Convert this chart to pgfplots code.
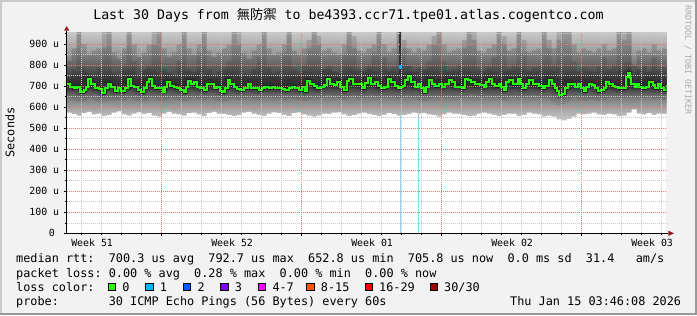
\documentclass[border=0pt]{standalone}
\usepackage{pgfplots}
\pgfplotsset{compat=1.18}
\usepackage{pgfplotstable}
\usepackage{fontspec}
\setmainfont{DejaVu Sans Mono}
\setmonofont{DejaVu Sans Mono}
\newfontfamily\cjk{Noto Sans CJK TC}
\frenchspacing
\definecolor{bgc}{HTML}{F2F2F2}
\definecolor{shadeA}{HTML}{CBCBCB}
\definecolor{shadeB}{HTML}{999999}
\definecolor{core}{HTML}{202020}
\definecolor{darkcol}{HTML}{303030}
\definecolor{lossblue}{HTML}{8FD6F5}
\definecolor{cA}{HTML}{26FF00}
\definecolor{cB}{HTML}{00B8FF}
\definecolor{cC}{HTML}{0059FF}
\definecolor{cD}{HTML}{7E00FF}
\definecolor{cE}{HTML}{FF00FF}
\definecolor{cF}{HTML}{FF5500}
\definecolor{cG}{HTML}{FF0000}
\definecolor{cH}{HTML}{A10000}
\definecolor{arrowc}{HTML}{961414}
\definecolor{mgrid}{HTML}{E67878}
\definecolor{ngrid}{HTML}{C8C8C8}
\definecolor{rrdgray}{HTML}{AAAAAA}
\definecolor{g0}{HTML}{FFFFFF}
\definecolor{g1}{HTML}{EEEEEE}
\definecolor{g2}{HTML}{D4D4D4}
\definecolor{g3}{HTML}{B4B4B4}
\definecolor{g4}{HTML}{909090}
\definecolor{g5}{HTML}{6C6C6C}
\definecolor{g6}{HTML}{4A4A4A}
\definecolor{g7}{HTML}{5E5E5E}
\definecolor{g8}{HTML}{808080}
\definecolor{g9}{HTML}{A4A4A4}
\definecolor{g10}{HTML}{CACACA}
% the filled band 540..960 is mapped onto 25bp..75bp: v -> 25 + 50*(v-540)/420
\pgfdeclareverticalshading{smoke}{100bp}{
  color(0bp)=(g0); color(25bp)=(g0); color(28.57bp)=(g1); color(32.14bp)=(g2);
  color(35.71bp)=(g3); color(39.29bp)=(g4); color(42.26bp)=(g5); color(44.64bp)=(g6);
  color(47.62bp)=(g6); color(52.38bp)=(g7); color(58.33bp)=(g8); color(65.48bp)=(g9);
  color(75bp)=(g10); color(100bp)=(g10)}
\newcommand\axisfont{\fontsize{9.88bp}{11bp}\selectfont}
\newcommand\legfont{\fontsize{11.83bp}{14bp}\selectfont}
\newcommand\titlefont{\fontsize{13.25bp}{15bp}\selectfont}
\newcommand\smallfont{\fontsize{8.3bp}{10bp}\selectfont}

\pgfplotstableread{
x s1 s2 lo
0.00 820 740 575
0.25 880 780 568
0.50 960 960 560
0.75 900 800 572
1.00 850 760 578
1.25 870 740 566
1.50 880 790 570
1.75 960 880 558
2.00 960 960 562
2.25 860 760 574
2.50 830 730 580
2.75 880 800 566
3.00 960 960 560
3.25 900 820 570
3.50 840 750 576
3.75 860 780 568
4.00 900 800 572
4.25 960 900 560
4.50 960 960 556
4.75 880 780 570
5.00 840 760 578
5.25 860 740 570
5.50 900 820 566
5.75 960 960 560
6.00 880 780 572
6.25 850 760 575
6.50 900 860 566
6.75 960 960 558
7.00 870 780 572
7.25 840 740 578
7.50 860 770 570
7.75 880 790 568
8.00 900 820 564
8.25 960 960 558
8.50 960 900 562
8.75 860 760 574
9.00 830 740 578
9.25 870 780 570
9.50 900 840 564
9.75 960 960 558
10.00 880 790 570
10.25 850 760 576
10.50 860 770 572
10.75 900 860 564
11.00 960 960 558
11.25 870 780 572
11.50 850 760 576
11.75 880 800 566
12.00 920 880 560
12.25 960 960 556
12.50 940 900 560
12.75 870 780 570
13.00 880 800 568
13.25 860 770 574
13.50 850 760 576
13.75 900 850 566
14.00 960 960 558
14.25 940 880 562
14.50 870 780 570
14.75 860 770 574
15.00 880 800 568
15.25 900 860 564
15.50 960 960 558
15.75 900 840 564
16.00 860 770 572
16.25 880 790 568
16.50 960 960 560
16.75 920 880 562
17.00 880 800 568
17.25 860 770 574
17.50 880 790 570
17.75 870 780 572
18.00 900 820 566
18.25 940 900 562
18.50 960 960 556
18.75 900 820 566
19.00 860 770 574
19.25 870 780 570
19.50 880 800 568
19.75 920 880 562
20.00 960 960 558
20.25 960 920 560
20.50 870 780 570
20.75 860 770 574
21.00 880 790 570
21.25 900 840 564
21.50 960 960 558
21.75 940 900 562
22.00 870 780 570
22.25 880 800 568
22.50 960 960 558
22.75 920 860 562
23.00 860 770 574
23.25 870 790 570
23.50 880 800 566
23.75 960 960 556
24.00 920 880 560
24.25 880 800 556
24.50 960 920 542
24.75 960 960 538
25.00 960 960 545
25.25 900 820 556
25.50 860 770 570
25.75 880 790 566
26.00 870 780 570
26.25 860 770 574
26.50 880 800 566
26.75 900 840 564
27.00 870 780 570
27.25 880 800 566
27.50 960 960 558
27.75 960 920 560
28.00 960 960 575
28.25 800 720 590
28.50 870 780 570
28.75 880 800 566
29.00 860 770 572
29.25 900 840 564
29.50 870 780 570
29.75 880 790 568
30.00 880 790 568
}\streak

\pgfplotstableread{
x y
0.00 709
0.18 698
0.35 690
0.52 698
0.68 671
0.85 682
0.97 698
1.07 734
1.23 709
1.43 690
1.60 685
1.77 666
1.90 690
2.05 713
2.23 698
2.40 677
2.57 690
2.73 677
2.90 690
3.05 734
3.22 702
3.38 698
3.55 682
3.73 671
3.88 690
4.02 721
4.13 734
4.27 702
4.43 693
4.63 690
4.80 675
4.90 698
5.02 718
5.18 702
5.35 698
5.52 690
5.68 682
5.85 674
5.97 698
6.07 724
6.23 713
6.35 721
6.52 698
6.68 690
6.85 682
7.02 709
7.18 713
7.35 690
7.52 698
7.68 677
7.80 671
7.93 693
8.07 729
8.18 709
8.35 698
8.52 687
8.68 682
8.85 690
9.07 709
9.23 693
9.43 690
9.60 682
9.77 690
9.93 698
10.10 693
10.27 698
10.43 690
10.60 693
10.77 687
10.93 682
11.10 693
11.27 698
11.43 690
11.60 682
11.77 698
11.90 677
12.02 724
12.18 713
12.35 702
12.52 690
12.68 698
12.85 705
13.02 734
13.18 713
13.35 705
13.52 721
13.68 698
13.85 682
14.02 724
14.13 734
14.30 713
14.47 709
14.63 709
14.77 690
14.90 715
15.07 737
15.23 713
15.40 718
15.57 702
15.73 690
15.90 698
16.07 734
16.23 721
16.40 702
16.57 690
16.68 698
16.80 702
16.93 729
17.07 750
17.23 718
17.40 698
17.57 709
17.73 690
17.85 674
17.97 698
18.10 729
18.27 713
18.43 702
18.60 713
18.77 698
18.93 713
19.13 729
19.27 718
19.43 698
19.60 698
19.77 693
19.93 734
20.07 729
20.23 718
20.40 713
20.57 713
20.68 705
20.85 698
20.97 721
21.10 734
21.27 713
21.43 702
21.60 713
21.73 698
21.85 682
21.97 718
22.13 729
22.30 709
22.47 709
22.57 734
22.68 709
22.80 690
22.97 713
23.13 729
23.30 709
23.47 709
23.63 702
23.80 690
23.93 702
24.10 729
24.27 709
24.40 690
24.52 677
24.63 658
24.77 661
24.90 690
25.07 713
25.23 709
25.40 698
25.57 709
25.73 690
25.85 677
25.97 698
26.10 713
26.27 705
26.43 690
26.57 677
26.73 682
26.85 690
26.97 718
27.13 709
27.30 702
27.43 698
27.57 690
27.73 690
27.90 693
27.97 745
28.07 765
28.17 737
28.23 709
28.40 698
28.52 713
28.63 698
28.80 693
28.97 698
29.13 721
29.30 705
29.42 690
29.58 709
29.72 690
29.85 682
30.00 706
}\median

\begin{document}
\begin{tikzpicture}[x=1bp,y=1bp]
\fill[bgc] (-66.7,-81.7) rectangle (630.3,233.3);
\fill[shadeA] (-66.7,231.3) rectangle (630.3,233.3);
\fill[shadeA] (-66.7,-81.7) rectangle (-64.7,233.3);
\fill[shadeB] (-66.7,-81.7) rectangle (630.3,-79.7);
\fill[shadeB] (628.3,-81.7) rectangle (630.3,233.3);
\begin{axis}[
  at={(0,0)}, anchor=south west,
  width=600bp, height=200.6bp, scale only axis,
  xmin=0, xmax=30, ymin=0, ymax=955,
  axis background/.style={fill=white},
  axis on top,
  axis x line*=bottom, axis y line*=left,
  axis line style={black, line width=0.8bp},
  xtick={4.75,11.75,18.75,25.75}, xticklabels={,,,},
  minor xtick={0.75,1.75,2.75,3.75,5.75,6.75,7.75,8.75,9.75,10.75,12.75,13.75,14.75,15.75,16.75,17.75,19.75,20.75,21.75,22.75,23.75,24.75,26.75,27.75,28.75,29.75},
  extra x ticks={1.27,8.27,15.27,22.27,29.27},
  extra x tick labels={Week 51,Week 52,Week 01,Week 02,Week 03},
  extra x tick style={grid=none, major tick length=0pt},
  xticklabel style={font=\axisfont, anchor=north, inner sep=0pt, yshift=-5bp},
  ytick={0,100,200,300,400,500,600,700,800,900},
  yticklabels={0\kern4.3bp,100 u,200 u,300 u,400 u,500 u,600 u,700 u,800 u,900 u},
  minor ytick={50,150,...,950},
  yticklabel style={font=\axisfont, anchor=east, inner sep=0pt, xshift=-4.4bp},
  grid=both,
  major grid style={mgrid, line width=0.6bp, dash pattern=on 1bp off 1bp},
  minor grid style={ngrid, line width=0.6bp, dash pattern=on 1bp off 1bp},
  tick align=outside,
  major tick length=3bp, minor tick length=2bp,
  tick style={black, line width=0.6bp},
]
% smoke: vertical gradient of the ping spread, then darker streaks per step
\addplot[shading=smoke, draw=none] coordinates {(0,540) (0,960) (30,960) (30,540)} -- cycle;
\addplot[const plot, fill=black, fill opacity=0.14, draw=none] table[x=x,y=s1]{\streak} \closedcycle;
\addplot[const plot, fill=black, fill opacity=0.11, draw=none] table[x=x,y=s2]{\streak} \closedcycle;
\addplot[const plot, fill=white, draw=none] table[x=x,y=lo]{\streak} \closedcycle;
\addplot[black, opacity=0.07, line width=20bp, line join=round] table[x=x,y=y]{\median};
\addplot[black, opacity=0.12, line width=9bp, line join=round] table[x=x,y=y]{\median};
\addplot[lossblue, line width=1.2bp] coordinates {(16.67,0) (16.67,562)};
\addplot[lossblue, line width=1.2bp] coordinates {(17.6,0) (17.6,566)};
\addplot[darkcol, line width=1.5bp] coordinates {(16.67,700) (16.67,960)};
\addplot[const plot, core, line width=3.6bp, line join=round] table[x=x,y=y]{\median};
\addplot[const plot, cA, line width=2bp] table[x=x,y=y]{\median};
\addplot[only marks, mark=square*, mark size=1.2bp, cB] coordinates {(16.67,792.7)};
\end{axis}
% axis arrows
\draw[black, line width=0.8bp] (600,0) -- (601.6,0);
\fill[arrowc] (601.6,2.6) -- (607.3,0) -- (601.6,-2.6) -- cycle;
\draw[black, line width=0.8bp] (0,200.6) -- (0,202.6);
\fill[arrowc] (-2.6,202.6) -- (0,207.3) -- (2.6,202.6) -- cycle;
% texts
\node[anchor=base, inner sep=0pt, font=\titlefont] at (281.8,214) {Last 30 Days from {\cjk 無防禦} to be4393.ccr71.tpe01.atlas.cogentco.com};
\node[rotate=90, inner sep=0pt, font=\legfont] at (-56.7,100.8) {Seconds};
\node[rotate=-90, inner sep=0pt, font=\smallfont, text=rrdgray] at (621.3,173.3) {RRDTOOL / TOBI OETIKER};
\node[anchor=base west, inner sep=0pt, font=\legfont] at (-50.7,-29.5) {median~rtt:~~700.3~us~avg~~792.7~us~max~~652.8~us~min~~705.8~us~now~~0.0~ms~sd~~31.4~~~am/s};
\node[anchor=base west, inner sep=0pt, font=\legfont] at (-50.7,-43.7) {packet~loss:~0.00~\%~avg~~0.28~\%~max~~0.00~\%~min~~0.00~\%~now};
\node[anchor=base west, inner sep=0pt, font=\legfont] at (-50.7,-58) {loss~color:};
\foreach \bx/\lab/\col in {41.6/0/cA, 79/1/cB, 116.6/2/cC, 154/3/cD, 191.6/4-7/cE, 240/8-15/cF, 298.3/16-29/cG, 363.3/30\slash 30/cH} {
  \filldraw[fill=\col, draw=black, line width=0.8bp] (\bx,-57.2) rectangle ++(7.3,7.6);
  \node[anchor=base west, inner sep=0pt, font=\legfont] at (\bx+14,-58) {\lab};
}
\node[anchor=base west, inner sep=0pt, font=\legfont] at (-50.7,-72.3) {probe:~~~~~~~30~ICMP~Echo~Pings~(56~Bytes)~every~60s};
\node[anchor=base east, inner sep=0pt, font=\legfont] at (614.6,-72.3) {Thu~Jan~15~03:46:08~2026};
\pgfresetboundingbox
\useasboundingbox (-66.7,-81.7) rectangle (630.3,233.3);
\end{tikzpicture}
\end{document}
